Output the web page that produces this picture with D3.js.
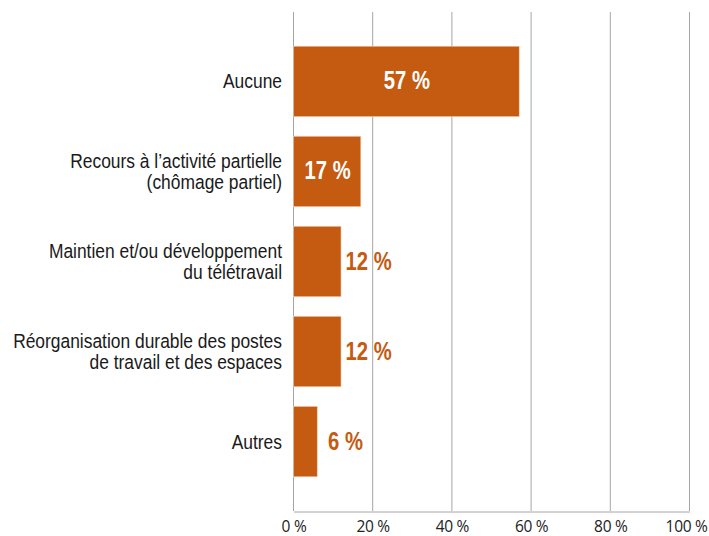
<!DOCTYPE html>
<html>
<head>
<meta charset="utf-8">
<script src="https://cdn.jsdelivr.net/npm/d3@7"></script>
<style>
  body { margin: 0; background: #fff; }
  #chart { width: 709px; height: 536px; }
</style>
</head>
<body>
<div id="chart"></div>
<script>
// Categories (each entry = lines of the label) and values in %
const categories = [
    ["Aucune"],
    ["Recours à l\u2019activité partielle", "(chômage partiel)"],
    ["Maintien et/ou développement", "du télétravail"],
    ["Réorganisation durable des postes", "de travail et des espaces"],
    ["Autres"]
];
const values = [57, 17, 12, 12, 6];
const tickValues = [0, 20, 40, 60, 80, 100];

function createChart() {
    const width = 709, height = 536;
    const margin = { top: 12, right: 20, bottom: 25, left: 293 };
    const orange = "#C55A11";
    const narrow = 0.893;      // horizontal squeeze to mimic Arial Narrow
    const narrowBold = 0.81;

    const svg = d3.select("#chart").append("svg")
        .attr("width", width)
        .attr("height", height);

    const x = d3.scaleLinear()
        .domain([0, 100])
        .range([margin.left, 689]);

    const y = d3.scaleBand()
        .domain(d3.range(categories.length))
        .range([margin.top, height - margin.bottom])
        .paddingInner(0.217)
        .paddingOuter(0.38);

    // vertical gridlines
    svg.append("g")
        .selectAll("line")
        .data(tickValues)
        .enter()
        .append("line")
        .attr("x1", d => x(d) + 0.5)
        .attr("x2", d => x(d) + 0.5)
        .attr("y1", margin.top)
        .attr("y2", height - margin.bottom)
        .attr("stroke", "#a6a6a6")
        .attr("stroke-width", 1);

    // bottom axis
    const xAxis = d3.axisBottom(x)
        .tickValues(tickValues)
        .tickSize(0)
        .tickPadding(9.5)
        .tickFormat(d => d + "\u00a0%");

    const gx = svg.append("g")
        .attr("transform", `translate(0.5,${height - margin.bottom + 0.5})`)
        .call(xAxis);
    gx.select(".domain").attr("stroke", "#a6a6a6");
    gx.selectAll("text")
        .attr("font-family", "'Open Sans', sans-serif")
        .attr("font-size", "15.5px")
        .attr("letter-spacing", "-0.3px")
        .attr("fill", "#222");

    // keep the last tick label inside the page
    gx.selectAll(".tick text").each(function(d) {
        const w = this.getComputedTextLength();
        const over = x(d) + 0.5 + w / 2 - (width - 2);
        if (over > 0) d3.select(this).attr("dx", -over);
    });

    // bars
    svg.append("g")
        .selectAll("rect")
        .data(values)
        .enter()
        .append("rect")
        .attr("x", x(0) + 0.5)
        .attr("y", (d, i) => y(i))
        .attr("width", d => x(d) - x(0))
        .attr("height", y.bandwidth())
        .attr("fill", orange)
        .attr("stroke", "#f3d3bd")
        .attr("stroke-width", 0.6);

    // category labels
    const labels = svg.append("g")
        .selectAll("text")
        .data(categories)
        .enter()
        .append("text")
        .attr("text-anchor", "end")
        .attr("font-family", "'Liberation Sans', Arial, sans-serif")
        .attr("font-size", "19.5px")
        .attr("fill", "#1a1a1a")
        .attr("transform", (d, i) => `translate(282,${y(i) + y.bandwidth() / 2}) scale(${narrow},1)`);

    labels.each(function(lines) {
        const t = d3.select(this);
        const lh = 21;
        const start = -(lines.length - 1) * lh / 2 + 7;
        lines.forEach((ln, k) => {
            t.append("tspan")
                .attr("x", 0)
                .attr("y", start + k * lh)
                .text(ln);
        });
    });

    // value labels: inside (white, centred) if wide enough, else outside (orange)
    const inside = d => d >= 15;
    svg.append("g")
        .selectAll("text")
        .data(values)
        .enter()
        .append("text")
        .attr("font-family", "'Liberation Sans', Arial, sans-serif")
        .attr("font-weight", "bold")
        .attr("font-size", "25px")
        .attr("text-anchor", d => inside(d) ? "middle" : "start")
        .attr("fill", d => inside(d) ? "#fff" : orange)
        .attr("transform", (d, i) => {
            const tx = inside(d) ? x(0) + (x(d) - x(0)) / 2 + 1 : Math.max(x(d) + 5, x(0) + 35);
            const ty = y(i) + y.bandwidth() / 2 + 8;
            return `translate(${tx},${ty}) scale(${narrowBold},1)`;
        })
        .text(d => d + "\u00a0%");
}

createChart();
</script>
</body>
</html>
